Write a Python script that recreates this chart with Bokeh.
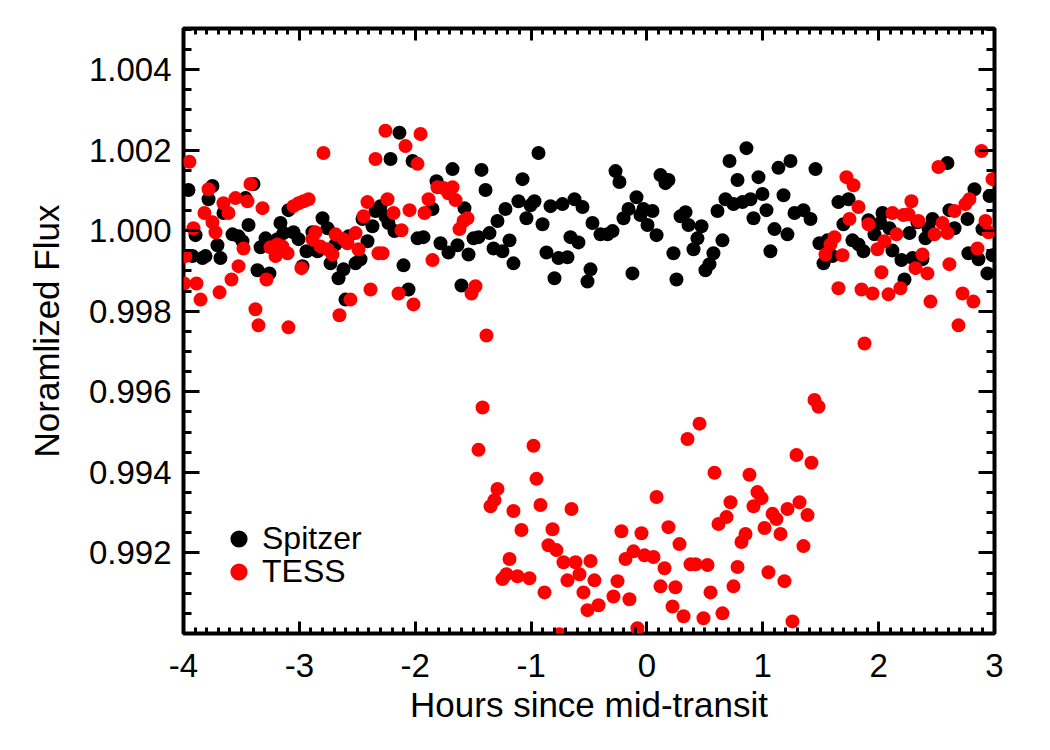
import numpy as np
from bokeh.plotting import figure
from bokeh.models import (LinearAxis, FixedTicker, PrintfTickFormatter, CustomJSTickFormatter,
                          Legend, LegendItem, Range1d)
from bokeh.embed import file_html
from bokeh.resources import INLINE

# Spitzer light curve (hours from mid-transit, normalized flux)
spitzer_t = [
    -3.957, -3.750, -3.784, -3.896, -3.922, -3.836, -3.810, -3.707, -3.681, -3.655,
    -3.577, -3.525, -3.491, -3.465, -3.439, -3.396, -3.361, -3.258, -3.335, -3.292,
    -3.163, -3.189, -3.137, -3.094, -3.051, -3.007, -2.973, -2.938, -2.887, -2.843,
    -2.800, -2.757, -2.731, -2.688, -2.662, -2.619, -2.602, -2.576, -2.515, -2.472,
    -2.455, -2.412, -2.369, -2.343, -2.300, -2.257, -2.213, -2.136, -2.023, -1.678,
    -1.428, -1.393, -1.816, -1.851, -2.231, -2.179, -1.980, -1.929, -1.782, -1.713,
    -1.635, -1.575, -1.540, -2.101, -2.058, -1.601, -1.497, -1.454, -1.359, -1.290,
    -1.221, -1.324, -1.247, -1.186, -1.152, -1.109, -1.074, -1.040, -1.005, -0.971,
    -0.936, -0.901, -0.867, -0.832, -0.729, -0.798, -0.763, -0.686, -0.625, -0.556,
    -0.660, -0.591, -0.513, -0.487, -0.470, -0.401, -0.340, -0.297, -0.271, -0.237,
    -0.202, -0.159, -0.125, -0.090, -0.056, -0.030, 0.048, 0.005, 0.083, 0.117,
    0.160, 0.186, 0.229, 0.255, 0.290, 0.333, 0.359, 0.471, 0.436, 0.402,
    0.505, 0.540, 0.574, 0.609, 0.652, 0.678, 0.747, 0.825, 0.894, 0.713,
    0.782, 0.859, 0.920, 0.963, 0.997, 1.032, 1.066, 1.101, 1.135, 1.179,
    1.213, 1.239, 1.274, 1.455, 1.351, 1.412, 1.489, 1.524, 1.601, 1.558,
    1.653, 1.740, 1.696, 1.774, 1.826, 1.869, 1.912, 1.964, 2.033, 2.016,
    2.093, 2.119, 2.197, 2.223, 2.266, 2.292, 2.378, 2.335, 2.404, 2.465,
    2.430, 2.594, 2.611, 2.655, 2.767, 2.775, 2.862, 2.827, 2.896, 2.939,
    2.957, 2.983,
]
spitzer_flux = [
    1.00101, 1.00111, 1.00078, 0.99989, 0.99937, 0.99932, 0.99937, 0.99964, 0.99932, 1.00044,
    0.99991, 0.99986, 0.99974, 1.00081, 1.00014, 1.00116, 0.99902, 0.99894, 0.99959, 0.99981,
    1.00019, 0.99979, 0.99994, 1.00051, 0.99996, 0.99979, 0.99912, 0.99949, 0.99996, 0.99949,
    1.00031, 1.00006, 0.99919, 0.99966, 0.99882, 0.99904, 0.99829, 0.99986, 0.99919, 0.99929,
    1.00029, 0.99974, 1.00011, 1.00049, 1.00061, 1.00036, 1.00178, 1.00243, 1.00173, 1.00153,
    1.00151, 1.00101, 1.00123, 1.00054, 1.00019, 0.99999, 0.99981, 0.99984, 0.99969, 0.99946,
    0.99964, 1.00056, 0.99941, 0.99914, 0.99854, 0.99864, 0.99981, 0.99984, 0.99994, 1.00024,
    1.00054, 0.99956, 0.99949, 0.99976, 0.99919, 1.00073, 1.00128, 1.00031, 1.00063, 1.00073,
    1.00193, 1.00016, 0.99946, 1.00061, 1.00066, 0.99882, 0.99932, 0.99934, 1.00078, 1.00059,
    0.99984, 0.99971, 0.99874, 0.99904, 1.00019, 0.99991, 0.99991, 0.99999, 1.00148, 1.00121,
    1.00031, 1.00054, 0.99894, 1.00083, 1.00039, 1.00054, 1.00049, 1.00014, 0.99989, 1.00138,
    1.00118, 1.00126, 0.99944, 0.99879, 1.00036, 1.00046, 1.00014, 1.00011, 0.99981, 0.99954,
    0.99902, 0.99917, 0.99944, 1.00049, 0.99976, 1.00078, 1.00066, 1.00071, 1.00078, 1.00173,
    1.00126, 1.00205, 1.00031, 1.00133, 1.00091, 1.00051, 0.99949, 1.00004, 1.00156, 1.00088,
    0.99991, 1.00173, 1.00044, 1.00153, 1.00051, 1.00029, 0.99969, 0.99919, 0.99937, 0.99976,
    1.00071, 1.00078, 1.00016, 0.99976, 0.99966, 0.99949, 1.00026, 0.99991, 1.00044, 1.00019,
    1.00006, 0.99951, 0.99927, 0.99879, 0.99994, 0.99932, 0.99929, 1.00021, 0.99981, 1.00029,
    1.00006, 1.00168, 1.00051, 1.00006, 1.00029, 0.99944, 0.99929, 1.00103, 1.00004, 0.99894,
    1.00086, 0.99939,
]

# TESS light curve (hours from mid-transit, normalized flux)
tess_t = [
    -3.948, -3.914, -3.983, -3.995, -3.888, -3.853, -3.819, -3.784, -3.750, -3.724,
    -3.689, -3.655, -3.612, -3.586, -3.551, -3.525, -3.482, -3.448, -3.422, -3.379,
    -3.353, -3.318, -3.284, -3.249, -3.206, -3.189, -3.146, -3.102, -3.094, -3.051,
    -3.007, -2.964, -2.921, -2.982, -2.861, -2.887, -2.818, -2.757, -2.714, -2.792,
    -2.688, -2.619, -2.585, -2.654, -2.559, -2.515, -2.490, -2.446, -2.412, -2.386,
    -2.343, -2.317, -2.282, -2.257, -2.239, -2.084, -1.954, -1.980, -2.187, -2.049,
    -1.920, -1.885, -1.808, -1.756, -1.678, -1.713, -1.652, -1.549, -1.583, -1.618,
    -2.118, -1.851, -2.144, -2.015, -1.480, -1.514, -1.385,
    -1.419, -1.454, -1.290, -1.316, -1.350, -1.152, -1.083, -1.186, -1.212, -1.247,
    -1.117, -1.014, -0.979, -0.953, -0.919, -0.884, -0.815, -0.850, -0.781, -0.720,
    -0.686, -0.651, -0.617, -0.582, -0.548, -0.487, -0.453, -0.513, -0.418, -0.755,
    -0.289, -0.254, -0.220, -0.185, -0.116, -0.151, -0.082, -0.047, -0.021, 0.057,
    0.083, 0.117, 0.152, 0.186, 0.221, 0.246, 0.281, 0.316, 0.350, 0.376,
    0.419, 0.454, 0.488, 0.523, 0.549, 0.583, 0.618, 0.687, 0.652, 0.721,
    0.747, 0.782, 0.816, 0.851, 0.885, 0.920, 0.954, 0.989, 1.015, 1.049,
    1.084, 1.118, 1.153, 1.187, 1.213, 1.256, 1.291, 1.317, 1.351, 1.386,
    1.420, 1.446, 1.481,
    1.541, 1.584, 1.619, 1.688, 1.653, 1.722, 1.783, 1.826, 1.748, 1.878,
    1.852, 1.947, 2.085, 2.188, 1.912, 1.990, 2.050, 2.024, 2.119, 2.154,
    2.214, 2.257, 2.283, 2.344, 2.378, 2.318, 2.421, 2.447, 2.482, 2.551,
    2.594, 2.516, 2.611, 2.655, 2.689, 2.724, 2.749, 2.784, 2.818, 2.853,
    2.888, 2.922, 2.948, 2.983,
]
tess_flux = [
    1.00171, 1.00006, 0.99937, 0.99869, 0.99869, 0.99829, 1.00044, 1.00103, 1.00021, 0.99996,
    0.99847, 1.00068, 1.00044, 0.99879, 1.00081, 0.99912, 0.99956, 1.00073, 1.00116, 0.99805,
    0.99765, 1.00056, 0.99879, 0.99959, 0.99937, 0.99966, 0.99961, 0.99944, 0.99760, 1.00061,
    1.00068, 1.00073, 1.00078, 0.99907, 0.99996, 0.99979, 0.99961, 0.99954, 0.99941, 1.00193,
    0.99991, 0.99979, 0.99969, 0.99790, 0.99829, 0.99994, 0.99954, 1.00036, 1.00071, 0.99854,
    1.00178, 0.99944, 0.99944, 1.00248, 1.00078, 1.00210, 1.00240, 1.00166, 1.00044, 1.00051,
    1.00044, 1.00078, 1.00108, 1.00106, 1.00108, 1.00093, 1.00076, 1.00031, 1.00024, 1.00004,
    1.00001, 0.99927, 0.99844, 0.99817, 0.99862, 0.99844, 0.99740,
    0.99561, 0.99456, 0.99359, 0.99331, 0.99316, 0.99304, 0.99257, 0.99185, 0.99147, 0.99135,
    0.99142, 0.99137, 0.99466, 0.99384, 0.99319, 0.99102, 0.99259, 0.99219, 0.99207, 0.99177,
    0.99132, 0.99309, 0.99177, 0.99147, 0.99102, 0.99180, 0.99132, 0.99058, 0.99070, 0.98998,
    0.99092, 0.99130, 0.99254, 0.99185, 0.99204, 0.99085, 0.99013, 0.99249, 0.99194, 0.99190,
    0.99339, 0.99117, 0.99162, 0.99264, 0.99067, 0.99115, 0.99222, 0.99043, 0.99483, 0.99172,
    0.99172, 0.99521, 0.99038, 0.99170, 0.99102, 0.99399, 0.99272, 0.99289, 0.99050, 0.99326,
    0.99117, 0.99165, 0.99227, 0.99247, 0.99394, 0.99316, 0.99351, 0.99336, 0.99262, 0.99152,
    0.99297, 0.99284, 0.99247, 0.99130, 0.99309, 0.99030, 0.99443, 0.99326, 0.99217, 0.99294,
    0.99424, 0.99580, 0.99563,
    0.99941, 0.99966, 0.99984, 0.99939, 0.99857, 1.00133, 1.00113, 1.00059, 1.00029, 0.99720,
    0.99854, 0.99844, 0.99842, 0.99857, 1.00016, 0.99954, 0.99974, 0.99897, 1.00044, 0.99991,
    1.00039, 1.00041, 1.00073, 1.00024, 0.99941, 0.99907, 0.99894, 0.99824, 0.99991, 1.00019,
    0.99994, 1.00158, 0.99917, 1.00049, 0.99765, 0.99844, 1.00066, 1.00078, 0.99824, 0.99956,
    1.00198, 1.00024, 0.99996, 1.00128,
]

x_major = [-4, -3, -2, -1, 0, 1, 2, 3]
y_major = [0.992, 0.994, 0.996, 0.998, 1.000, 1.002, 1.004]

FONT = "Liberation Sans"

p = figure(frame_width=811, frame_height=605,
           min_border_left=183, min_border_right=56, min_border_top=28, min_border_bottom=117,
           x_range=Range1d(-4, 3), y_range=Range1d(0.990, 1.00502),
           output_backend="svg", toolbar_location=None,
           background_fill_color="white", border_fill_color="white")
p.grid.visible = False
p.outline_line_color = "black"
p.outline_line_width = 4

# keep handles on the default axes before mirrored ones are added
bottom_ax = p.xaxis[0]
left_ax = p.yaxis[0]
right_ax = LinearAxis()
top_ax = LinearAxis()
p.add_layout(right_ax, "right")
p.add_layout(top_ax, "above")

x_ticker = FixedTicker(ticks=x_major, minor_ticks=list(np.round(np.arange(-4, 3.0001, 0.1), 2)))
y_ticker = FixedTicker(ticks=y_major, minor_ticks=list(np.round(np.arange(0.990, 1.00501, 0.0005), 5)))
blank = CustomJSTickFormatter(code="return ''")

for ax in [bottom_ax, top_ax]:
    ax.ticker = x_ticker
    ax.major_tick_in = 12
    ax.minor_tick_in = 6
for ax in [left_ax, right_ax]:
    ax.ticker = y_ticker
    ax.major_tick_in = 16
    ax.minor_tick_in = 8

for ax in [bottom_ax, top_ax, left_ax, right_ax]:
    ax.major_tick_out = 0
    ax.minor_tick_out = 0
    ax.major_tick_line_width = 3
    ax.minor_tick_line_width = 3
    ax.major_tick_line_color = "black"
    ax.minor_tick_line_color = "black"
    ax.axis_line_color = None
    ax.major_label_text_font = FONT
    ax.major_label_text_font_size = "33px"
    ax.major_label_text_color = "black"

top_ax.formatter = blank
right_ax.formatter = blank
top_ax.major_label_standoff = 0
right_ax.major_label_standoff = 0

bottom_ax.formatter = PrintfTickFormatter(format="%d")
left_ax.formatter = PrintfTickFormatter(format="%.3f")
bottom_ax.major_label_standoff = 20
left_ax.major_label_standoff = 12

bottom_ax.axis_label = "Hours since mid-transit"
left_ax.axis_label = "Noramlized Flux"
for ax in [bottom_ax, left_ax]:
    ax.axis_label_text_font = FONT
    ax.axis_label_text_font_size = "35px"
    ax.axis_label_text_font_style = "normal"
    ax.axis_label_text_color = "black"
bottom_ax.axis_label_standoff = 5
left_ax.axis_label_standoff = 20

r_sp = p.scatter(spitzer_t, spitzer_flux, size=14, fill_color="black", line_color=None)
r_te = p.scatter(tess_t, tess_flux, size=14, fill_color="#ff0000", line_color=None)

# one legend box per entry so the two rows sit close together
legend_style = dict(glyph_width=43, glyph_height=43, padding=0, margin=0, label_standoff=2,
                    label_text_font=FONT, label_text_font_size="32px", label_text_color="black",
                    background_fill_alpha=0, border_line_color=None)
p.add_layout(Legend(items=[LegendItem(label="Spitzer", renderers=[r_sp])],
                    location=(34, 73), **legend_style))
p.add_layout(Legend(items=[LegendItem(label="TESS", renderers=[r_te])],
                    location=(34, 40), **legend_style))

open("out.html", "w").write(file_html(p, INLINE))
